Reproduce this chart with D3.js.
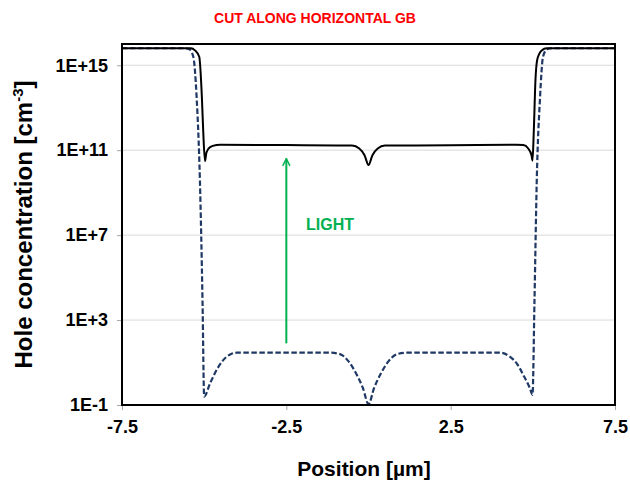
<!DOCTYPE html>
<html>
<head>
<meta charset="utf-8">
<script src="https://cdn.jsdelivr.net/npm/d3@7"></script>
<style>
  html, body { margin: 0; padding: 0; background: #fff; }
  svg { display: block; font-family: "Liberation Sans", Arial, sans-serif; }
</style>
</head>
<body>
<svg id="chart" width="630" height="483"></svg>
<script>
// Hole concentration profile across a horizontal grain boundary (GB), dark vs. illuminated
const positionsDark = [-7.5, -5.6, -5.45, -5.33, -5.23, -5.13, -5.05, -5.0, -4.82, -4.62, -4.42, -4.21, -4.01, -3.0,
  -1.16, -0.87, -0.6, -0.38, -0.17, 0, 0.17, 0.38, 0.6, 0.87, 1.16, 3.0, 4.0, 4.30, 4.51, 4.71, 4.91, 4.99,
  5.05, 5.12, 5.22, 5.31, 5.43, 5.6, 7.5];
const holesDark = [6.3e15, 6.3e15, 5.6e15, 2.5e15, 3.2e13, 4.0e9, 7.9e3, 0.25, 1.05, 4.5, 13, 24, 29, 29,
  29, 25, 11, 3.1, 0.63, 0.11, 0.63, 3.1, 11, 25, 29, 29, 29, 19, 9.1, 2.6, 0.62, 0.30,
  7.9e3, 4.0e9, 3.2e13, 2.5e15, 5.6e15, 6.3e15, 6.3e15];

const positionsLight = [-7.5, -5.4, -5.28, -5.15, -5.07, -5.03, -4.975, -4.93, -4.82, -4.62, -4.5, -2.5, -0.8,
  -0.5, -0.28, -0.12, 0, 0.12, 0.28, 0.5, 0.8, 2.5, 4.5, 4.71, 4.86, 4.96, 4.99, 5.03, 5.08, 5.14, 5.27, 5.42, 7.5];
const holesLight = [6.3e15, 6.3e15, 5.0e15, 2.5e15, 3.2e13, 8.7e11, 3.0e10, 7.9e10, 1.4e11, 1.74e11, 1.8e11, 1.74e11, 1.66e11,
  1.66e11, 1.2e11, 5.8e10, 2.0e10, 5.8e10, 1.2e11, 1.66e11, 1.66e11, 1.7e11, 1.8e11, 1.74e11, 1.2e11, 5.8e10, 3.2e10,
  8.7e11, 2.0e14, 2.0e15, 5.0e15, 6.3e15, 6.3e15];

const xTicks = [-7.5, -2.5, 2.5, 7.5];
const xTickLabels = ["-7.5", "-2.5", "2.5", "7.5"];
const yTicks = [1e-1, 1e3, 1e7, 1e11, 1e15];
const yTickLabels = ["1E-1", "1E+3", "1E+7", "1E+11", "1E+15"];

// Illumination arrow (position, from, to) and its label
const arrowPosition = -2.5;
const arrowFrom = 80;
const arrowTo = 4e10;
const lightLabel = { text: "LIGHT", x: -1.9, y: 1.7e7 };

const svg = d3.select("#chart");
const plot = { left: 122, right: 615, top: 44, bottom: 405 };

const x = d3.scaleLinear().domain([-7.5, 7.5]).range([plot.left, plot.right]);
const y = d3.scaleLog().domain([1e-1, 1e16]).range([plot.bottom, plot.top]);

// Title
svg.append("text")
  .attr("x", 315).attr("y", 23)
  .attr("text-anchor", "middle")
  .attr("font-size", 14).attr("font-weight", "bold")
  .attr("fill", "#ff0000")
  .text("CUT ALONG HORIZONTAL GB");

// Horizontal gridlines
svg.append("g")
  .selectAll("line")
  .data(yTicks.slice(1))
  .join("line")
  .attr("x1", plot.left).attr("x2", plot.right)
  .attr("y1", d => y(d)).attr("y2", d => y(d))
  .attr("stroke", "#d9d9d9").attr("stroke-width", 1);

// Axes
const xAxis = d3.axisBottom(x).tickValues(xTicks)
  .tickFormat((d, i) => xTickLabels[i]).tickSize(5).tickPadding(10);
const yAxis = d3.axisLeft(y).tickValues(yTicks)
  .tickFormat((d, i) => yTickLabels[i]).tickSize(5).tickPadding(9);

const gx = svg.append("g").attr("transform", `translate(0,${plot.bottom})`).call(xAxis);
const gy = svg.append("g").attr("transform", `translate(${plot.left},0)`).call(yAxis);
[gx, gy].forEach(g => {
  g.select(".domain").remove();
  g.selectAll(".tick line").attr("stroke", "#a6a6a6");
  g.selectAll(".tick text")
    .attr("font-family", "Liberation Sans, Arial, sans-serif")
    .attr("font-size", 18).attr("font-weight", "bold").attr("fill", "#000");
});

// Curves
const line = d3.line().curve(d3.curveMonotoneX);

svg.append("clipPath").attr("id", "plotclip")
  .append("rect")
  .attr("x", plot.left).attr("y", plot.top)
  .attr("width", plot.right - plot.left).attr("height", plot.bottom - plot.top);

svg.append("path")
  .attr("clip-path", "url(#plotclip)")
  .attr("d", line(positionsDark.map((p, i) => [x(p), y(holesDark[i])])))
  .attr("fill", "none")
  .attr("stroke", "#1f3864").attr("stroke-width", 2.2)
  .attr("stroke-dasharray", "5.5,2.5");

svg.append("path")
  .attr("clip-path", "url(#plotclip)")
  .attr("d", line(positionsLight.map((p, i) => [x(p), y(holesLight[i])])))
  .attr("fill", "none")
  .attr("stroke", "#000").attr("stroke-width", 2);

// Plot frame
svg.append("rect")
  .attr("x", plot.left).attr("y", plot.top)
  .attr("width", plot.right - plot.left).attr("height", plot.bottom - plot.top)
  .attr("fill", "none").attr("stroke", "#000").attr("stroke-width", 2);

// Illumination arrow
const green = "#00b050";
svg.append("defs").append("marker")
  .attr("id", "arrowhead")
  .attr("viewBox", "0 0 10 10")
  .attr("refX", 9).attr("refY", 5)
  .attr("markerWidth", 4.5).attr("markerHeight", 4.5)
  .attr("markerUnits", "strokeWidth")
  .attr("orient", "auto")
  .append("path")
  .attr("d", "M1,1 L9,5 L1,9")
  .attr("fill", "none").attr("stroke", green).attr("stroke-width", 1.6);

svg.append("line")
  .attr("x1", x(arrowPosition)).attr("x2", x(arrowPosition))
  .attr("y1", y(arrowFrom)).attr("y2", y(arrowTo))
  .attr("stroke", green).attr("stroke-width", 2)
  .attr("marker-end", "url(#arrowhead)");

svg.append("text")
  .attr("x", x(lightLabel.x)).attr("y", y(lightLabel.y))
  .attr("font-size", 16).attr("font-weight", "bold")
  .attr("fill", green)
  .text(lightLabel.text);

// Axis titles
svg.append("text")
  .attr("x", 364).attr("y", 476)
  .attr("text-anchor", "middle")
  .attr("font-size", 21).attr("font-weight", "bold")
  .text("Position [µm]");

const yTitle = svg.append("text")
  .attr("transform", `translate(32,${(plot.top + plot.bottom) / 2}) rotate(-90)`)
  .attr("text-anchor", "middle")
  .attr("font-size", 24).attr("font-weight", "bold");
yTitle.append("tspan").text("Hole concentration [cm");
yTitle.append("tspan").attr("font-size", 15).attr("dy", -9).text("-3");
yTitle.append("tspan").attr("dy", 9).text("]");
</script>
</body>
</html>
